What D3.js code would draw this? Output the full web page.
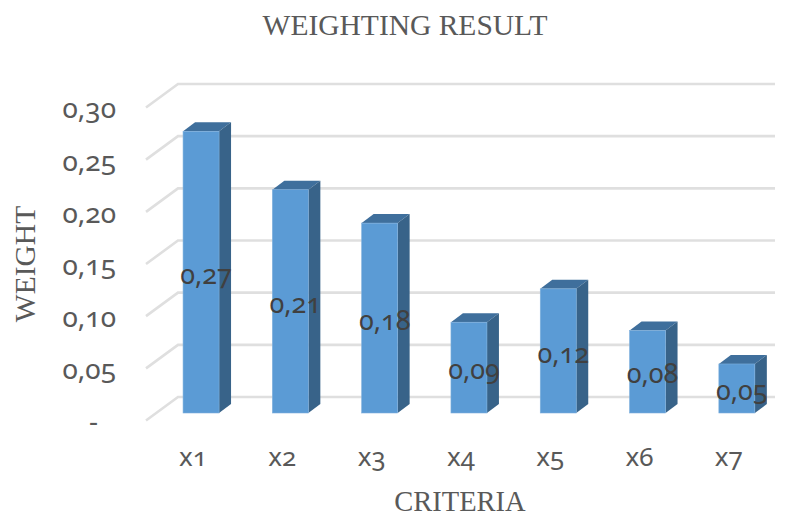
<!DOCTYPE html>
<html>
<head>
<meta charset="utf-8">
<script src="https://cdn.jsdelivr.net/npm/d3@7"></script>
<style>
  html, body { margin: 0; background: #fff; }
  svg text { font-family: "Liberation Serif", serif; fill: #595959; }
  svg text.num { font-family: "Noto Sans", sans-serif; font-feature-settings: "onum" 1; }
  .domain, .tick line { display: none; }
</style>
</head>
<body>
<div id="chart"></div>
<script>
const categories = ["x1", "x2", "x3", "x4", "x5", "x6", "x7"];
const weights = [0.27, 0.214, 0.182, 0.087, 0.119, 0.079, 0.047];
const yTicks = [0, 0.05, 0.1, 0.15, 0.2, 0.25, 0.3];

const width = 791;
const height = 516;
const depth = { x: 12, y: 9 };
const wall = { x: 32, y: 23.5 };

const svg = d3.select("#chart").append("svg")
  .attr("width", width)
  .attr("height", height)
  .attr("viewBox", [0, 0, width, height])
  .style("display", "block");

const x = d3.scaleBand()
  .domain(categories)
  .range([156.4, 781.5])
  .paddingInner(0.597)
  .paddingOuter(0.2985);

// front plane of the bars
const y = d3.scaleLinear().domain([0, 0.3]).range([413, 100]);

// gridlines, drawn on the floor edge and back wall
const grid = svg.append("g").attr("fill", "none").attr("stroke", "#dfdfdf").attr("stroke-width", 2.6);
grid.selectAll("path")
  .data(yTicks)
  .join("path")
  .attr("d", (d) => {
    const yBack = y(d) - 16;
    return `M146,${yBack + wall.y}L178,${yBack}H775`;
  });

const bars = svg.append("g")
  .selectAll("g")
  .data(weights)
  .join("g")
  .attr("transform", (d, i) => `translate(${x(categories[i])},0)`);

const bw = x.bandwidth();

bars.append("path")
  .attr("fill", "#3f6f9c")
  .attr("d", (d) => `M0,${y(d)}l${depth.x},${-depth.y}h${bw}l${-depth.x},${depth.y}z`);

bars.append("path")
  .attr("fill", "#386389")
  .attr("d", (d) => `M${bw},${y(d)}l${depth.x},${-depth.y}V${y(0) - depth.y}l${-depth.x},${depth.y}z`);

bars.append("rect")
  .attr("fill", "#5b9bd5")
  .attr("stroke", "#7fb0dd")
  .attr("stroke-width", 0.6)
  .attr("y", (d) => y(d))
  .attr("width", bw)
  .attr("height", (d) => y(0) - y(d));

const commaFormat = (d) => d3.format(".2f")(d).replace(".", ",");

bars.append("text")
  .attr("class", "num")
  .attr("x", bw / 2 + 5)
  .attr("y", (d) => (y(d) + y(0)) / 2 + 3)
  .attr("dy", "0.32em")
  .attr("text-anchor", "middle")
  .attr("font-size", 27)
  .style("fill", "#404040")
  .text(commaFormat);

const yAxis = svg.append("g")
  .attr("transform", "translate(116,9)")
  .call(d3.axisLeft(y).tickValues(yTicks).tickSize(0).tickPadding(0)
    .tickFormat((d) => (d === 0 ? "-" : commaFormat(d))));
yAxis.selectAll("text")
  .attr("class", "num")
  .attr("font-size", 28)
  .attr("dx", (d) => (d === 0 ? -18 : 0));

const xAxis = svg.append("g")
  .attr("transform", "translate(-8,448)")
  .call(d3.axisBottom(x).tickSize(0).tickPadding(0));
xAxis.selectAll("text").attr("class", "num").attr("font-size", 26);

svg.append("text")
  .attr("x", 405).attr("y", 35)
  .attr("text-anchor", "middle")
  .attr("font-size", 29.5)
  .text("WEIGHTING RESULT");

svg.append("text")
  .attr("x", 460).attr("y", 511)
  .attr("text-anchor", "middle")
  .attr("font-size", 28.5)
  .text("CRITERIA");

svg.append("text")
  .attr("transform", "translate(35,264) rotate(-90)")
  .attr("text-anchor", "middle")
  .attr("font-size", 29.5)
  .text("WEIGHT");
</script>
</body>
</html>
